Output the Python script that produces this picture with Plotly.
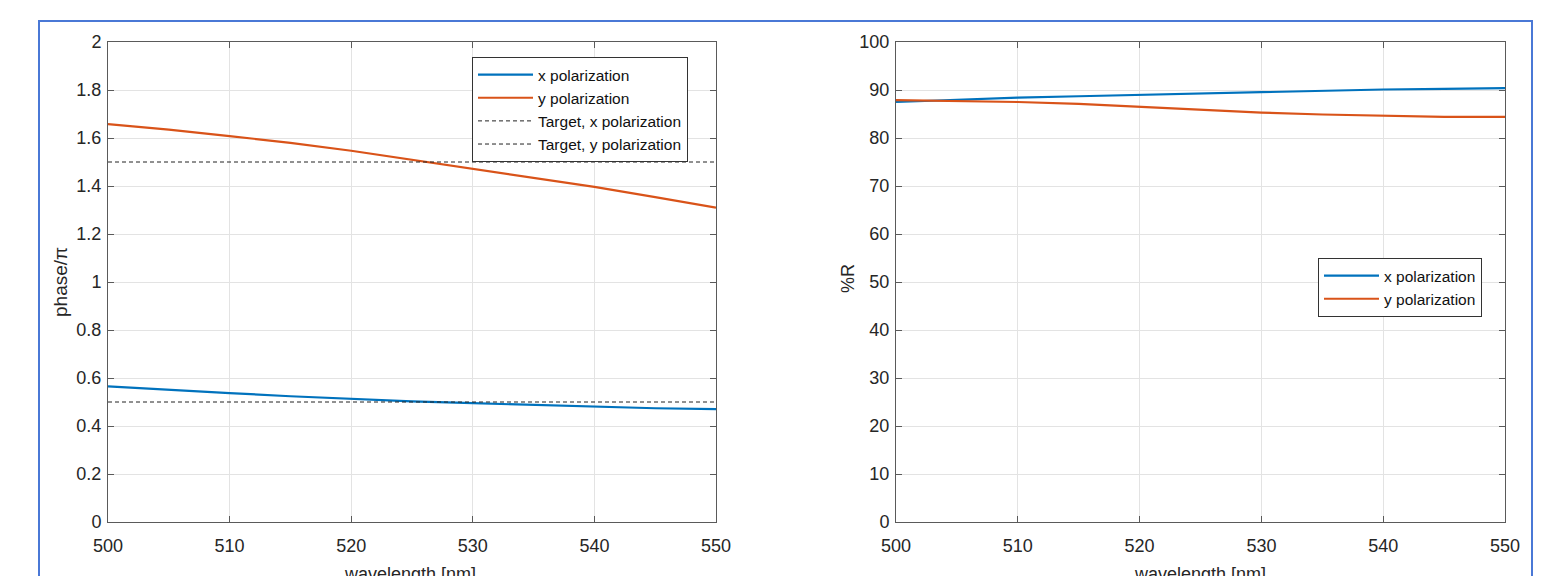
import plotly.graph_objects as go

# ---------------- data ----------------
wavelength = [500, 505, 510, 515, 520, 525, 530, 535, 540, 545, 550]
phase_x = [0.565, 0.550, 0.537, 0.524, 0.513, 0.503, 0.495, 0.487, 0.480, 0.474, 0.470]
phase_y = [1.658, 1.635, 1.608, 1.580, 1.547, 1.510, 1.472, 1.435, 1.396, 1.354, 1.310]
target_x = 0.5
target_y = 1.5
refl_x = [87.5, 88.0, 88.4, 88.7, 89.0, 89.35, 89.65, 89.9, 90.1, 90.25, 90.4]
refl_y = [87.9, 87.7, 87.5, 87.1, 86.5, 85.8, 85.3, 84.9, 84.6, 84.4, 84.4]

x_ticks = [500, 510, 520, 530, 540, 550]
phase_ticks = [0, 0.2, 0.4, 0.6, 0.8, 1, 1.2, 1.4, 1.6, 1.8, 2]
phase_ticklabels = ["0", "0.2", "0.4", "0.6", "0.8", "1", "1.2", "1.4", "1.6", "1.8", "2"]
refl_ticks = [0, 10, 20, 30, 40, 50, 60, 70, 80, 90, 100]

BLUE = "#0072BD"
ORANGE = "#D95319"
# page body has an 8px default margin: the figure is sized to fit the 1555x576 window
OFF = 8
W, H = 1555 - OFF, 576 - OFF
FONT = "Liberation Sans, Arial, sans-serif"

def px(x):
    return (x - OFF) / W

def py(y):
    return 1 - (y - OFF) / H

fig = go.Figure()

fig.add_trace(go.Scatter(x=wavelength, y=phase_x, mode="lines", name="x polarization",
                         line=dict(color=BLUE, width=2.2), xaxis="x", yaxis="y", legend="legend"))
fig.add_trace(go.Scatter(x=wavelength, y=phase_y, mode="lines", name="y polarization",
                         line=dict(color=ORANGE, width=2.2), xaxis="x", yaxis="y", legend="legend"))
fig.add_trace(go.Scatter(x=wavelength, y=[target_x] * len(wavelength), mode="lines",
                         name="Target, x polarization",
                         line=dict(color="#222222", width=1, dash="4px,3px"), xaxis="x", yaxis="y", legend="legend"))
fig.add_trace(go.Scatter(x=wavelength, y=[target_y] * len(wavelength), mode="lines",
                         name="Target, y polarization",
                         line=dict(color="#222222", width=1, dash="4px,3px"), xaxis="x", yaxis="y", legend="legend"))

fig.add_trace(go.Scatter(x=wavelength, y=refl_x, mode="lines", name="x polarization",
                         line=dict(color=BLUE, width=2.2), xaxis="x2", yaxis="y2", legend="legend2"))
fig.add_trace(go.Scatter(x=wavelength, y=refl_y, mode="lines", name="y polarization",
                         line=dict(color=ORANGE, width=2.2), xaxis="x2", yaxis="y2", legend="legend2"))

ax_common = dict(
    showline=True, linecolor="#5a5a5a", linewidth=1, mirror="ticks",
    ticks="inside", ticklen=6, tickcolor="#5a5a5a", automargin=False,
    showgrid=True, gridcolor="#e3e3e3", gridwidth=1, zeroline=False,
    tickfont=dict(family=FONT, size=18, color="#262626"),
)

ydom = [py(522), py(42)]

fig.update_layout(
    width=W, height=H,
    margin=dict(l=0, r=0, t=0, b=0, pad=0, autoexpand=False),
    paper_bgcolor="white", plot_bgcolor="white",
    font=dict(family=FONT, color="#262626"),
    xaxis=dict(domain=[px(108), px(716)], range=[500, 550], tickvals=x_ticks,
               anchor="y", ticklabelstandoff=7, **ax_common),
    yaxis=dict(domain=ydom, range=[0, 2], tickvals=phase_ticks, ticktext=phase_ticklabels,
               anchor="x", ticklabelstandoff=2, **ax_common),
    xaxis2=dict(domain=[px(896), px(1505)], range=[500, 550], tickvals=x_ticks,
                anchor="y2", ticklabelstandoff=7, **ax_common),
    yaxis2=dict(domain=ydom, range=[0, 100], tickvals=refl_ticks,
                anchor="x2", ticklabelstandoff=2, **ax_common),
    legend=dict(x=px(472), y=py(57), xanchor="left", yanchor="top",
                bgcolor="white", bordercolor="#333333", borderwidth=1,
                font=dict(family=FONT, size=15.5, color="#111111"),
                tracegroupgap=0, itemwidth=55),
    legend2=dict(x=px(1318), y=py(258), xanchor="left", yanchor="top",
                 bgcolor="white", bordercolor="#333333", borderwidth=1,
                 font=dict(family=FONT, size=15.5, color="#111111"),
                 tracegroupgap=0, itemwidth=55),
    showlegend=True,
    shapes=[dict(type="rect", xref="paper", yref="paper",
                 x0=px(39), x1=px(1532), y0=py(640), y1=py(21),
                 line=dict(color="#4A78D6", width=2), fillcolor="rgba(0,0,0,0)", layer="above")],
    annotations=[
        dict(text="wavelength [nm]", xref="paper", yref="paper", x=px(410), y=py(562),
             xanchor="center", yanchor="top", showarrow=False,
             font=dict(family=FONT, size=18, color="#262626")),
        dict(text="wavelength [nm]", xref="paper", yref="paper", x=px(1200), y=py(562),
             xanchor="center", yanchor="top", showarrow=False,
             font=dict(family=FONT, size=18, color="#262626")),
        dict(text="phase/π", xref="paper", yref="paper", x=px(60), y=py(282),
             xanchor="center", yanchor="middle", showarrow=False, textangle=-90,
             font=dict(family=FONT, size=19, color="#262626")),
        dict(text="%R", xref="paper", yref="paper", x=px(848), y=py(278),
             xanchor="center", yanchor="middle", showarrow=False, textangle=-90,
             font=dict(family=FONT, size=18, color="#262626")),
    ],
)

fig.write_html("out.html")
